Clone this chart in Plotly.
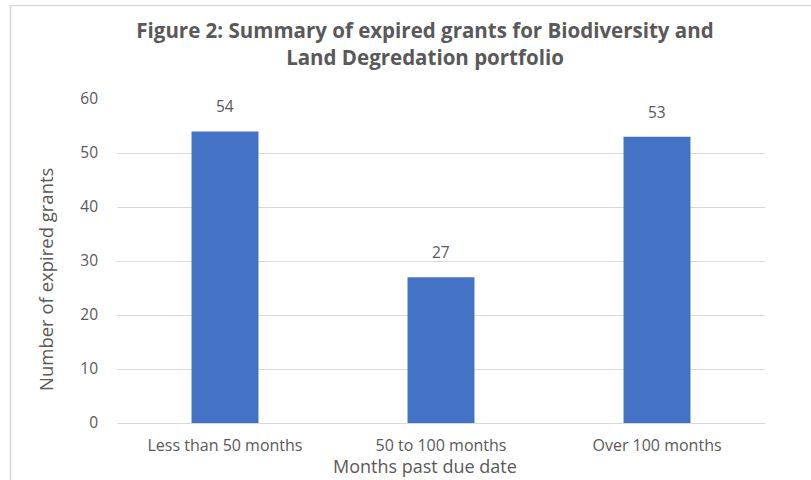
import plotly.graph_objects as go

categories = ["Less than 50 months", "50 to 100 months", "Over 100 months"]
values = [54, 27, 53]
y_ticks = [0, 10, 20, 30, 40, 50, 60]

title_text = "Figure 2: Summary of expired grants for Biodiversity and<br>Land Degredation portfolio"
x_title = "Months past due date"
y_title = "Number of expired grants"

W, H = 811, 480
L, R, T, B = 117, 46, 99, 57
TXT = "#595959"
FONT = "Open Sans"

fig = go.Figure()
fig.add_trace(go.Bar(x=categories, y=values, marker=dict(color="#4472C4", line=dict(width=0)),
                     width=0.31, hoverinfo="x+y"))

for c, v in zip(categories, values):
    fig.add_annotation(x=c, y=v, text=str(v), showarrow=False, yshift=25,
                       font=dict(family=FONT, size=15.5, color=TXT))

pw = W - L - R
ph = H - T - B
fig.add_shape(type="rect", xref="paper", yref="paper",
              x0=(10.5 - L) / pw, x1=(W + 5 - L) / pw,
              y0=-(H + 5 - (T + ph)) / ph,
              y1=(T + ph - 5.5) / ph,
              line=dict(color="#D9D9D9", width=1.5), fillcolor="rgba(0,0,0,0)", layer="below")

fig.add_annotation(xref="paper", yref="paper", x=(45 - L) / pw, y=(T + ph - 280) / ph,
                   xanchor="center", yanchor="middle",
                   text=y_title, textangle=-90, showarrow=False,
                   font=dict(family=FONT, size=18.5, color=TXT))
fig.add_annotation(xref="paper", yref="paper", x=(425 - L) / pw, y=-(466 - (T + ph)) / ph,
                   xanchor="center", yanchor="middle",
                   text=x_title, showarrow=False,
                   font=dict(family=FONT, size=18, color=TXT))

fig.update_layout(
    width=W, height=H,
    margin=dict(l=L, r=R, t=T, b=B),
    paper_bgcolor="white", plot_bgcolor="white",
    showlegend=False,
    title=dict(text="<b>" + title_text + "</b>", x=425 / W, xanchor="center",
               y=1 - 38 / H, yanchor="middle",
               font=dict(family=FONT, size=20.5, color=TXT)),
    xaxis=dict(showgrid=False, showline=False, ticks="", tickfont=dict(family=FONT, size=16, color=TXT),
               ticklabelstandoff=11),
    yaxis=dict(range=[0, 60], tickvals=y_ticks, showgrid=True, gridcolor="#D9D9D9", gridwidth=1,
               zeroline=True, zerolinecolor="#D9D9D9", zerolinewidth=1, showline=False,
               tickfont=dict(family=FONT, size=15.5, color=TXT), ticklabelstandoff=18),
)

fig.write_html("out.html", config={"displayModeBar": False},
               post_script="document.body.style.margin='0';")
